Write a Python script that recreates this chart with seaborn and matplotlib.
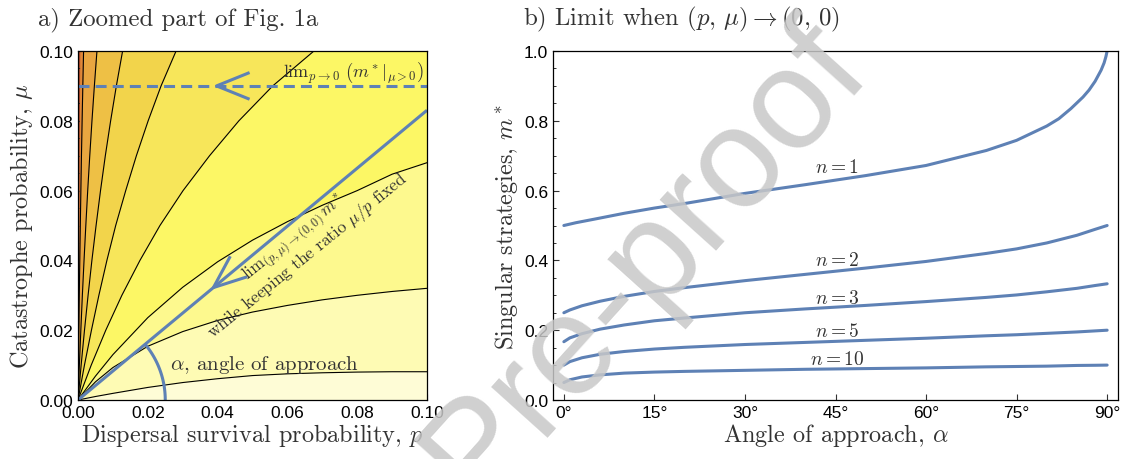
import numpy as np
import pandas as pd
import matplotlib
matplotlib.use("Agg")
import matplotlib.pyplot as plt
from matplotlib.ticker import MultipleLocator
import seaborn as sns

# ---------------- data: panel a (contour boundaries) -------------
MU_LEVELS = [0, 0.01, 0.02, 0.03, 0.04, 0.05, 0.06, 0.07, 0.08, 0.09, 0.10]
# contour lines that leave through the top edge: p value at each mu level
P_LINE_A = [0, 0.00004, 0.00009, 0.00014, 0.00019, 0.00024, 0.00030, 0.00035, 0.00040, 0.00045, 0.00050]
P_LINE_B = [0, 0.000115, 0.000238, 0.000369, 0.000509, 0.000659, 0.00082, 0.00099, 0.00118, 0.00138, 0.0016]
P_LINE_C = [0, 0.00039, 0.00081, 0.00125, 0.00173, 0.00224, 0.00278, 0.00337, 0.0040, 0.00469, 0.00543]
P_LINE_D = [0, 0.0009, 0.00186, 0.00289, 0.00398, 0.00518, 0.00645, 0.00783, 0.00935, 0.01099, 0.01278]
P_LINE_E = [0, 0.00185, 0.00385, 0.00598, 0.00828, 0.0108, 0.01367, 0.01673, 0.0201, 0.0238, 0.0281]
P_LINE_F = [0, 0.00379, 0.00796, 0.01257, 0.01775, 0.02348, 0.0301, 0.0377, 0.0461, 0.0558, 0.0676]

P_LEVELS = [0, 0.005, 0.01, 0.02, 0.03, 0.04, 0.05, 0.06, 0.07, 0.08, 0.09, 0.10]
# contour lines that leave through the right edge: mu value at each p level
MU_LINE_G = [0, 0.00684, 0.0130, 0.0236, 0.0323, 0.0396, 0.0458, 0.0511, 0.0558, 0.0600, 0.0647, 0.0680]
MU_LINE_H = [0, 0.0052, 0.0093, 0.0154, 0.0196, 0.0228, 0.0252, 0.0271, 0.0287, 0.0300, 0.0311, 0.0320]
MU_LINE_I = [0, 0.0010, 0.0019, 0.0036, 0.0050, 0.0061, 0.0070, 0.0075, 0.0078, 0.0080, 0.0081, 0.0081]

REGION_COLORS = ["#b44a2a", "#e08838", "#e8a640", "#eec045", "#f2d44b",
                 "#f7e65a", "#fcf765", "#fdf98e", "#fefbb4", "#fefcd6"]

APPROACH_ANGLE_DEG = 39.7     # angle of the blue ray
DASHED_MU = 0.09              # level of the dashed blue line

# ---------------- data: panel b -------------
ANGLES_N1 = [0, 2, 5, 10, 15, 20, 30, 40, 45, 50, 60, 70, 75, 80, 82, 84, 86, 87, 88,
             89, 89.5, 89.8, 90]
M_N1 = [0.500, 0.508, 0.518, 0.535, 0.550, 0.563, 0.592, 0.617, 0.630, 0.643, 0.672,
        0.715, 0.744, 0.785, 0.806, 0.835, 0.868, 0.888, 0.913, 0.945, 0.966, 0.984, 1.0]
ANGLES = [0, 1, 3, 6, 10, 15, 20, 30, 40, 45, 50, 60, 70, 75, 80, 85, 88, 90]
M_N2 = [0.250, 0.258, 0.270, 0.283, 0.297, 0.311, 0.322, 0.342, 0.360, 0.369, 0.378,
        0.397, 0.420, 0.433, 0.450, 0.472, 0.489, 0.500]
M_N3 = [0.167, 0.178, 0.190, 0.203, 0.215, 0.227, 0.235, 0.250, 0.261, 0.266, 0.271,
        0.282, 0.294, 0.301, 0.310, 0.320, 0.328, 0.333]
M_N5 = [0.100, 0.110, 0.121, 0.131, 0.139, 0.146, 0.151, 0.159, 0.165, 0.168, 0.171,
        0.177, 0.184, 0.187, 0.191, 0.195, 0.198, 0.200]
M_N10 = [0.050, 0.058, 0.066, 0.072, 0.077, 0.080, 0.082, 0.085, 0.088, 0.089, 0.090,
         0.092, 0.095, 0.096, 0.097, 0.099, 0.0995, 0.100]
N_LABELS = ["$n=1$", "$n=2$", "$n=3$", "$n=5$", "$n=10$"]
N_LABEL_POS = [(45.3, 0.667), (45.3, 0.400), (45.3, 0.293), (45.3, 0.199), (45.3, 0.118)]

X_TICKS_B = [0, 15, 30, 45, 60, 75, 90]
X_TICKLABELS_B = ["0°", "15°", "30°", "45°", "60°", "75°", "90°"]
Y_TICKS_B = [0, 0.2, 0.4, 0.6, 0.8, 1.0]
Y_TICKLABELS_B = ["0.0", "0.2", "0.4", "0.6", "0.8", "1.0"]
TICKS_A = [0, 0.02, 0.04, 0.06, 0.08, 0.10]
TICKLABELS_A = ["0.00", "0.02", "0.04", "0.06", "0.08", "0.10"]

# ---------------- style -------------
sns.set_theme(style="white")
plt.rcParams["font.family"] = ["cmr10", "DejaVu Serif"]
plt.rcParams["mathtext.fontset"] = "cm"
plt.rcParams["axes.formatter.use_mathtext"] = True
plt.rcParams["axes.unicode_minus"] = False

BLUE = "#5e81b5"
TXT = "#333333"
LW = 2.2
LABEL_FS = 17.5
TITLE_FS = 17.8

W, H = 1125, 460
fig = plt.figure(figsize=(W / 100, H / 100), dpi=100)
axL = fig.add_axes([78 / W, 1 - 401 / H, 349 / W, 349 / H])
axR = fig.add_axes([553 / W, 1 - 401 / H, 565 / W, 349 / H])

# ---------------- panel a -------------
P_MAX, MU_MAX = 0.10, 0.10
axL.set_facecolor(REGION_COLORS[0])
top_lines = [P_LINE_A, P_LINE_B, P_LINE_C, P_LINE_D, P_LINE_E, P_LINE_F]
right_lines = [MU_LINE_G, MU_LINE_H, MU_LINE_I]
for k, pl in enumerate(top_lines):
    axL.fill_betweenx(MU_LEVELS, pl, P_MAX, color=REGION_COLORS[k + 1], lw=0, zorder=1)
for k, ml in enumerate(right_lines):
    axL.fill_between(P_LEVELS, 0, ml, color=REGION_COLORS[k + 7], lw=0, zorder=1)
for pl in top_lines[1:]:
    sns.lineplot(x=pl, y=MU_LEVELS, sort=False, color="black", lw=0.8, ax=axL, zorder=2)
for ml in right_lines:
    sns.lineplot(x=P_LEVELS, y=ml, sort=False, color="black", lw=0.8, ax=axL, zorder=2)

# blue ray, dashed limit line, arc and chevrons
ang = np.deg2rad(APPROACH_ANGLE_DEG)
axL.plot([0, P_MAX], [0, P_MAX * np.tan(ang)], color=BLUE, lw=LW, zorder=3,
         solid_capstyle="butt")
axL.axhline(DASHED_MU, color=BLUE, lw=LW, ls=(0, (3.6, 2.0)), zorder=3)
th = np.linspace(0, ang, 60)
axL.plot(0.025 * np.cos(th), 0.025 * np.sin(th), color=BLUE, lw=LW, zorder=3,
         solid_capstyle="butt")


def chevron(ax, tip, direction_deg, length=0.0102, half=22):
    a1 = np.deg2rad(direction_deg + half)
    a2 = np.deg2rad(direction_deg - half)
    xs = [tip[0] + length * np.cos(a1), tip[0], tip[0] + length * np.cos(a2)]
    ys = [tip[1] + length * np.sin(a1), tip[1], tip[1] + length * np.sin(a2)]
    ax.plot(xs, ys, color=BLUE, lw=LW, zorder=4, solid_capstyle="butt")


chevron(axL, (0.0397, DASHED_MU), 0)
tip_p = 0.0388
chevron(axL, (tip_p, tip_p * np.tan(ang)), APPROACH_ANGLE_DEG)

axL.text(0.0992, 0.0938, r"$\mathrm{lim}_{p\rightarrow 0}\ \left(m^*|_{\mu>0}\right)$",
         ha="right", va="center", fontsize=13, color=TXT, zorder=5)
axL.text(0.0622, 0.0467, r"$\mathrm{lim}_{(p,\mu)\rightarrow(0,0)}\,m^*$", rotation=39,
         rotation_mode="anchor", ha="center", va="center", fontsize=12.5, color=TXT, zorder=5)
axL.text(0.0659, 0.0415, r"while keeping the ratio $\mu/p$ fixed", rotation=39,
         rotation_mode="anchor", ha="center", va="center", fontsize=12.5, color=TXT, zorder=5)
axL.text(0.0264, 0.0103, r"$\alpha$, angle of approach", ha="left", va="center",
         fontsize=15, color=TXT, zorder=5)

axL.set_xlim(0, P_MAX)
axL.set_ylim(0, MU_MAX)
axL.set_xticks(TICKS_A, TICKLABELS_A)
axL.set_yticks(TICKS_A, TICKLABELS_A)
axL.xaxis.set_minor_locator(MultipleLocator(0.005))
axL.yaxis.set_minor_locator(MultipleLocator(0.005))
axL.set_xlabel("Dispersal survival probability, $p$", fontsize=LABEL_FS, color=TXT, labelpad=1)
axL.set_ylabel(r"Catastrophe probability, $\mu$", fontsize=LABEL_FS, color=TXT, labelpad=3)

# ---------------- panel b -------------
rows = []
for n, (xs, ys) in zip([1, 2, 3, 5, 10],
                       [(ANGLES_N1, M_N1), (ANGLES, M_N2), (ANGLES, M_N3),
                        (ANGLES, M_N5), (ANGLES, M_N10)]):
    for a, m in zip(xs, ys):
        rows.append({"angle": a, "m": m, "n": n})
df = pd.DataFrame(rows)
sns.lineplot(data=df, x="angle", y="m", units="n", estimator=None, sort=False,
             color=BLUE, lw=LW, ax=axR)
for lab, (x, y) in zip(N_LABELS, N_LABEL_POS):
    axR.text(x, y, lab, ha="center", va="center", fontsize=14, color=TXT)

axR.set_xlim(-1.8, 91.8)
axR.set_ylim(0, 1.0)
axR.set_xticks(X_TICKS_B, X_TICKLABELS_B)
axR.set_yticks(Y_TICKS_B, Y_TICKLABELS_B)
axR.yaxis.set_minor_locator(MultipleLocator(0.05))
axR.set_xlabel(r"Angle of approach, $\alpha$", fontsize=LABEL_FS, color=TXT, labelpad=1)
axR.set_ylabel(r"Singular strategies, $m^*$", fontsize=LABEL_FS, color=TXT, labelpad=3)

for ax in (axL, axR):
    ax.tick_params(which="both", direction="in", colors="#333333", labelcolor="black",
                   labelsize=12.5, labelfontfamily="Liberation Sans", pad=3.5,
                   bottom=True, left=True, top=False, right=False)
    ax.tick_params(which="major", length=4.5, width=0.8)
    ax.tick_params(which="minor", length=2.5, width=0.7)
    for s in ax.spines.values():
        s.set_color("black")
        s.set_linewidth(0.9)
        s.set_visible(True)
        s.set_zorder(6)

# titles
fig.text(38 / W, 1 - 25 / H, "a) Zoomed part of Fig. 1a", fontsize=TITLE_FS, color=TXT,
         va="baseline", ha="left")
fig.text(523 / W, 1 - 25 / H, r"b) Limit when $(p,\,\mu) \rightarrow (0,\,0)$",
         fontsize=TITLE_FS, color=TXT, va="baseline", ha="left")

# watermark present on the reference
fig.text(645 / W, 1 - 262 / H, "Pre-proof", rotation=48, fontsize=102, color="#c8c8c8",
         alpha=0.85, ha="center", va="center", family="Liberation Sans", zorder=20)

fig.savefig("out.png", dpi=100)
